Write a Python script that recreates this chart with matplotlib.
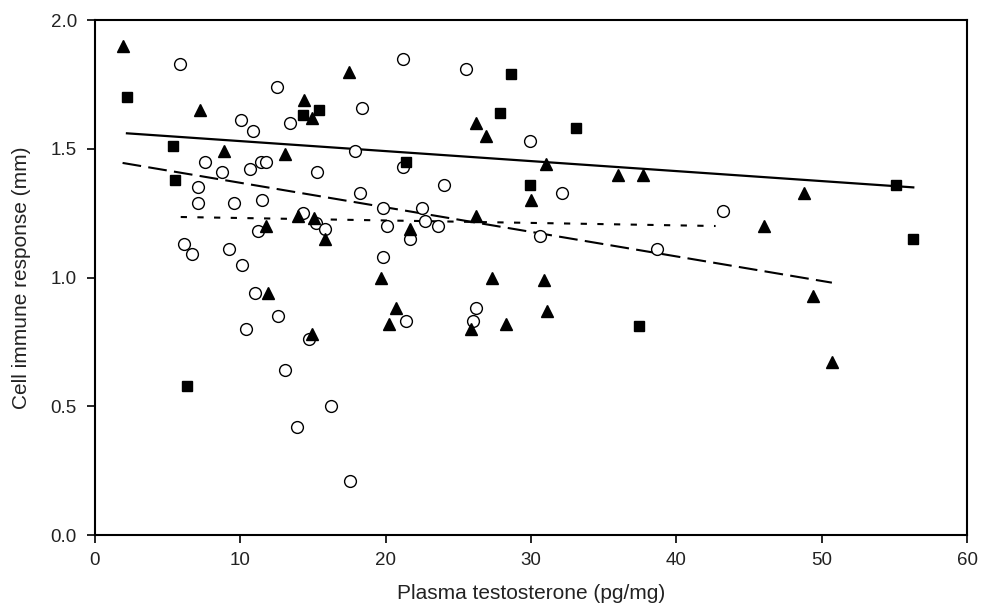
import matplotlib
matplotlib.use("Agg")
import matplotlib.pyplot as plt

plt.rcParams['font.family'] = ['Liberation Sans', 'DejaVu Sans']

# filled squares
sq_x = [2.2, 5.4, 5.5, 6.3, 14.3, 15.4, 21.4, 27.9, 28.6, 29.9, 33.1, 37.4, 55.1, 56.3]
sq_y = [1.70, 1.51, 1.38, 0.58, 1.63, 1.65, 1.45, 1.64, 1.79, 1.36, 1.58, 0.81, 1.36, 1.15]

# filled triangles
tri_x = [1.9, 7.2, 8.9, 11.8, 11.9, 13.1, 14.0, 14.4, 14.9, 14.9, 15.1, 15.8, 17.5,
         19.7, 20.2, 20.7, 21.7, 25.9, 26.2, 26.2, 26.9, 27.3, 28.3, 30.0, 30.9,
         31.0, 31.1, 36.0, 37.7, 46.0, 48.8, 49.4, 50.7]
tri_y = [1.90, 1.65, 1.49, 1.20, 0.94, 1.48, 1.24, 1.69, 1.62, 0.78, 1.23, 1.15, 1.80,
         1.00, 0.82, 0.88, 1.19, 0.80, 1.60, 1.24, 1.55, 1.00, 0.82, 1.30, 0.99,
         1.44, 0.87, 1.40, 1.40, 1.20, 1.33, 0.93, 0.67]

# open circles
circ_x = [5.85, 12.5, 18.4, 10.05, 10.9, 13.4, 17.9, 7.6, 11.4, 11.8, 10.7, 8.75,
          15.3, 7.1, 18.25, 7.1, 9.6, 11.5, 19.8, 14.3, 15.2, 15.8, 11.2, 6.1, 6.7,
          9.2, 10.1, 19.8, 20.1, 21.2, 25.5, 29.9, 21.2, 24.0, 32.1, 22.5, 22.7,
          23.6, 21.7, 30.6, 38.7, 43.2, 11.0, 12.6, 10.4, 14.7, 13.1, 16.25, 13.9,
          17.55, 21.4, 26.2, 26.0]
circ_y = [1.83, 1.74, 1.66, 1.61, 1.57, 1.60, 1.49, 1.45, 1.45, 1.45, 1.42, 1.41,
          1.41, 1.35, 1.33, 1.29, 1.29, 1.30, 1.27, 1.25, 1.21, 1.19, 1.18, 1.13, 1.09,
          1.11, 1.05, 1.08, 1.20, 1.85, 1.81, 1.53, 1.43, 1.36, 1.33, 1.27, 1.22,
          1.20, 1.15, 1.16, 1.11, 1.26, 0.94, 0.85, 0.80, 0.76, 0.64, 0.50, 0.42,
          0.21, 0.83, 0.88, 0.83]

# regression lines (end points)
fit_sq_x = [2.2, 56.3]
fit_sq_y = [1.56, 1.35]
fit_tri_x = [1.9, 50.7]
fit_tri_y = [1.445, 0.98]
fit_circ_x = [5.9, 42.7]
fit_circ_y = [1.235, 1.20]

fig = plt.figure(figsize=(9.81, 6.12), dpi=100)
ax = fig.add_axes([0.0968, 0.1258, 0.889, 0.8415])

ax.plot(fit_sq_x, fit_sq_y, '-', color='black', lw=1.6)
ax.plot(fit_tri_x, fit_tri_y, color='black', lw=1.5, dashes=(9, 3.5))
ax.plot(fit_circ_x, fit_circ_y, color='black', lw=1.5, dashes=(3, 5))

ax.plot(circ_x, circ_y, 'o', ms=8.5, mfc='white', mec='black', mew=1.0, ls='none')
ax.plot(tri_x, tri_y, '^', ms=8.5, color='black', ls='none')
ax.plot(sq_x, sq_y, 's', ms=7.5, color='black', ls='none')

ax.set_xlim(0, 60)
ax.set_ylim(0, 2.0)
ax.set_xticks(range(0, 61, 10))
ax.set_yticks([0.0, 0.5, 1.0, 1.5, 2.0])
ax.set_yticklabels(['0.0', '0.5', '1.0', '1.5', '2.0'])
ax.tick_params(direction='out', length=6, width=1.2, labelsize=13.5,
               labelcolor='#222222')
ax.tick_params(axis='x', pad=6)
ax.tick_params(axis='y', pad=7)
ax.tick_params(top=False, right=False)
for s in ax.spines.values():
    s.set_linewidth(1.5)

ax.set_xlabel("Plasma testosterone (pg/mg)", fontsize=15, labelpad=11, color='#222222')
ax.set_ylabel("Cell immune response (mm)", fontsize=15, labelpad=14, color='#222222')

fig.savefig("out.png", dpi=100)
